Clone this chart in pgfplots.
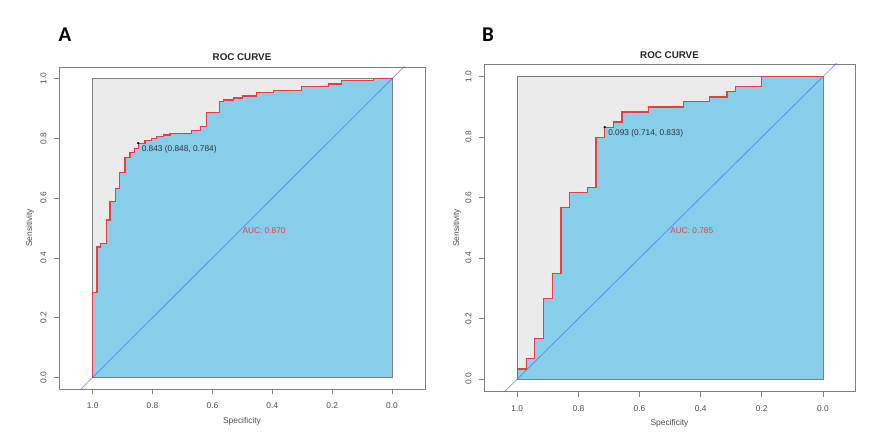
\documentclass[border=0pt]{standalone}
\usepackage{fontspec}
\setmainfont{Liberation Sans}
\newfontfamily\labfont{Carlito}
\usepackage{pgfplots}
\usepackage{pgfplotstable}
\pgfplotsset{compat=1.18}
\definecolor{skyblue}{HTML}{87CEEB}
\definecolor{boxgray}{HTML}{EBEBEB}
\definecolor{rocred}{HTML}{EE3B3F}
\definecolor{diagblue}{HTML}{2E4CFF}
\pgfplotstableread{
spec sens
1 0
1 0.283
0.986 0.283
0.986 0.436
0.973 0.436
0.973 0.449
0.953 0.449
0.953 0.527
0.942 0.527
0.942 0.588
0.925 0.588
0.925 0.633
0.911 0.633
0.911 0.685
0.892 0.685
0.892 0.737
0.875 0.737
0.875 0.752
0.861 0.752
0.861 0.767
0.848 0.767
0.848 0.784
0.825 0.784
0.825 0.794
0.803 0.794
0.803 0.800
0.786 0.800
0.786 0.806
0.764 0.806
0.764 0.811
0.742 0.811
0.742 0.817
0.669 0.817
0.669 0.826
0.641 0.826
0.641 0.839
0.621 0.839
0.621 0.886
0.577 0.886
0.577 0.923
0.564 0.923
0.564 0.929
0.530 0.929
0.530 0.935
0.500 0.935
0.500 0.942
0.452 0.942
0.452 0.953
0.397 0.953
0.397 0.961
0.302 0.961
0.302 0.974
0.213 0.974
0.213 0.982
0.168 0.982
0.168 0.994
0.063 0.994
0.063 1
0 1
}\rocA
\pgfplotstableread{
spec sens
1 0
1 0.033
0.971 0.033
0.971 0.067
0.943 0.067
0.943 0.133
0.914 0.133
0.914 0.267
0.886 0.267
0.886 0.350
0.857 0.350
0.857 0.567
0.829 0.567
0.829 0.617
0.771 0.617
0.771 0.633
0.743 0.633
0.743 0.800
0.714 0.800
0.714 0.833
0.686 0.833
0.686 0.850
0.657 0.850
0.657 0.883
0.571 0.883
0.571 0.900
0.457 0.900
0.457 0.917
0.371 0.917
0.371 0.933
0.314 0.933
0.314 0.950
0.286 0.950
0.286 0.967
0.200 0.967
0.200 1
0 1
}\rocB
\pgfplotsset{
  rocaxis/.style={
    scale only axis,
    anchor=south west,
    x dir=reverse,
    axis line style={draw=black!50, line width=0.7pt},
    tick style={draw=black!50, line width=0.6pt},
    tick align=outside,
    major tick length=5pt,
    xtick pos=bottom, ytick pos=left,
    xtick={0,0.2,0.4,0.6,0.8,1},
    ytick={0,0.2,0.4,0.6,0.8,1},
    /pgf/number format/fixed,
    /pgf/number format/fixed zerofill,
    /pgf/number format/precision=1,
    /pgf/number format/assume math mode=true,
    tick label style={font=\fontsize{8.4}{10}\selectfont, text=black!70},
    xticklabel style={anchor=center, yshift=-11.5pt},
    yticklabel style={rotate=90, anchor=center, yshift=10.5pt},
    label style={font=\fontsize{8.4}{10}\selectfont, text=black!70},
    xlabel style={at={(axis description cs:0.5,0)}, anchor=center, yshift=-32pt},
    title style={at={(axis description cs:0.5,1)}, anchor=center, font=\bfseries\fontsize{9.8}{12}\selectfont, text=black!85},
    title=ROC CURVE,
    xlabel=Specificity, ylabel=Sensitivity,
  }
}
\begin{document}
\begin{tikzpicture}
\useasboundingbox (0pt,0pt) rectangle (875pt,436pt);
\node[font=\labfont\bfseries\fontsize{21}{24}\selectfont] at (65pt,401pt) {A};
\node[font=\labfont\bfseries\fontsize{21}{24}\selectfont] at (488pt,401pt) {B};
% Panel A
\begin{axis}[rocaxis,
  at={(59pt,47pt)}, width=366pt, height=322pt,
  xmin=-0.110, xmax=1.1126, ymin=-0.039, ymax=1.039,
  ylabel style={at={(axis description cs:0,0.5)}, anchor=center, yshift=29pt},
  title style={yshift=4pt}]
\addplot[fill=boxgray, draw=none] coordinates {(1,0) (1,1) (0,1) (0,0)} -- cycle;
\addplot[fill=skyblue, draw=none] table[x=spec,y=sens] {\rocA} \closedcycle;
\addplot[draw=black!50, line width=0.7pt] coordinates {(1,0) (1,1) (0,1) (0,0)} -- cycle;
\addplot[diagblue, opacity=0.5, line width=0.8pt] coordinates {(1.2,-0.2) (-0.2,1.2)};
\addplot[rocred, line width=1.3pt] table[x=spec,y=sens] {\rocA};
\addplot[only marks, mark=*, mark size=1pt, black] coordinates {(0.848,0.784)};
\node[anchor=west, inner sep=0pt, xshift=3.4pt, yshift=-6.6pt, font=\fontsize{8.3}{10}\selectfont, text=black!80] at (axis cs:0.848,0.784) {0.843 (0.848, 0.784)};
\node[anchor=north west, inner sep=0pt, font=\fontsize{8.3}{10}\selectfont, text=rocred] at (axis cs:0.5,0.5) {AUC: 0.870};
\end{axis}
% Panel B
\begin{axis}[rocaxis,
  at={(484pt,44.3pt)}, width=371pt, height=327.7pt,
  xmin=-0.105, xmax=1.109, ymin=-0.042, ymax=1.042,
  ylabel style={at={(axis description cs:0,0.5)}, anchor=center, yshift=27pt},
  title style={yshift=3pt}]
\addplot[fill=boxgray, draw=none] coordinates {(1,0) (1,1) (0,1) (0,0)} -- cycle;
\addplot[fill=skyblue, draw=none] table[x=spec,y=sens] {\rocB} \closedcycle;
\addplot[draw=black!50, line width=0.7pt] coordinates {(1,0) (1,1) (0,1) (0,0)} -- cycle;
\addplot[diagblue, opacity=0.5, line width=0.8pt] coordinates {(1.2,-0.2) (-0.2,1.2)};
\addplot[rocred, line width=1.3pt] table[x=spec,y=sens] {\rocB};
\addplot[only marks, mark=*, mark size=1pt, black] coordinates {(0.714,0.833)};
\node[anchor=west, inner sep=0pt, xshift=3.4pt, yshift=-6.2pt, font=\fontsize{8.3}{10}\selectfont, text=black!80] at (axis cs:0.714,0.833) {0.093 (0.714, 0.833)};
\node[anchor=north west, inner sep=0pt, font=\fontsize{8.3}{10}\selectfont, text=rocred] at (axis cs:0.5,0.5) {AUC: 0.785};
\end{axis}
\end{tikzpicture}
\end{document}
